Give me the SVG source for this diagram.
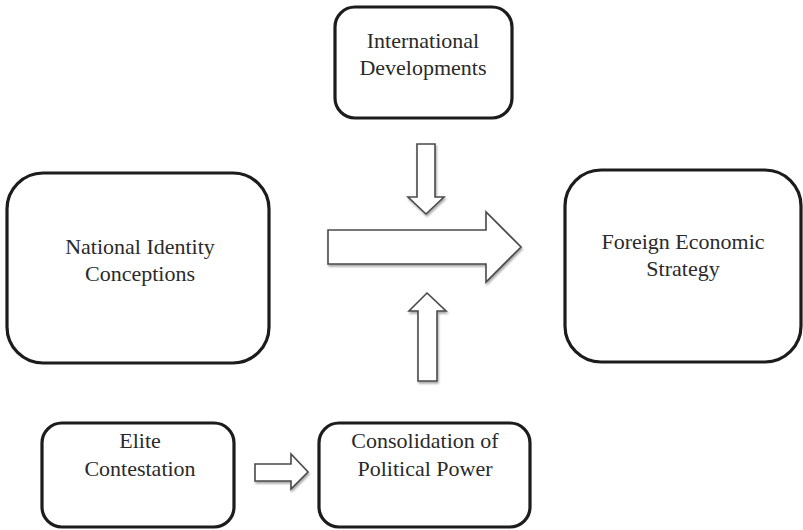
<svg xmlns="http://www.w3.org/2000/svg" width="803" height="530" viewBox="0 0 803 530">
<style>
.box{fill:#fff;stroke:#1c1c1c;stroke-width:3.2}
.t{font-family:"Liberation Serif","DejaVu Serif",serif;font-size:22px;fill:#2a2a2a;text-anchor:middle}
.arr{fill:#fff;stroke:#4a4a4a;stroke-width:1.6;stroke-linejoin:miter;filter:url(#sh)}
</style>
<defs>
<filter id="sh" x="-20%" y="-20%" width="140%" height="140%">
<feGaussianBlur in="SourceAlpha" stdDeviation="1.2"/>
<feOffset dx="0.5" dy="1.5" result="b"/>
<feComponentTransfer><feFuncA type="linear" slope="0.35"/></feComponentTransfer>
<feMerge><feMergeNode/><feMergeNode in="SourceGraphic"/></feMerge>
</filter>
</defs>
<rect width="803" height="530" fill="#fff"/>
<g id="intl">
<rect class="box" x="335" y="7" width="177" height="111" rx="20"/>
<text class="t" x="423" y="48">International</text>
<text class="t" x="423" y="75">Developments</text>
</g>
<g id="national">
<rect class="box" x="7" y="173" width="262" height="190" rx="36"/>
<text class="t" x="140" y="254">National Identity</text>
<text class="t" x="140" y="281">Conceptions</text>
</g>
<g id="foreign">
<rect class="box" x="565" y="170" width="236" height="192" rx="36"/>
<text class="t" x="683" y="249">Foreign Economic</text>
<text class="t" x="683" y="276">Strategy</text>
</g>
<g id="elite">
<rect class="box" x="42" y="423" width="192" height="104" rx="20"/>
<text class="t" x="140" y="448">Elite</text>
<text class="t" x="140" y="476">Contestation</text>
</g>
<g id="consolidation">
<rect class="box" x="319" y="423" width="211" height="104" rx="20"/>
<text class="t" x="425" y="448">Consolidation of</text>
<text class="t" x="425" y="476">Political Power</text>
</g>
<g id="connectors">
<polygon class="arr" points="328,230 486,230 486,212 521,247 486,282 486,264 328,264"/>
<polygon class="arr" points="417,144 435,144 435,197 444,197 426,214 408,197 417,197"/>
<polygon class="arr" points="427,293 446,311 437,311 437,381 418,381 418,311 409,311"/>
<polygon class="arr" points="255,464 291,464 291,454 308,472 291,489 291,481 255,481"/>
</g>
</svg>
